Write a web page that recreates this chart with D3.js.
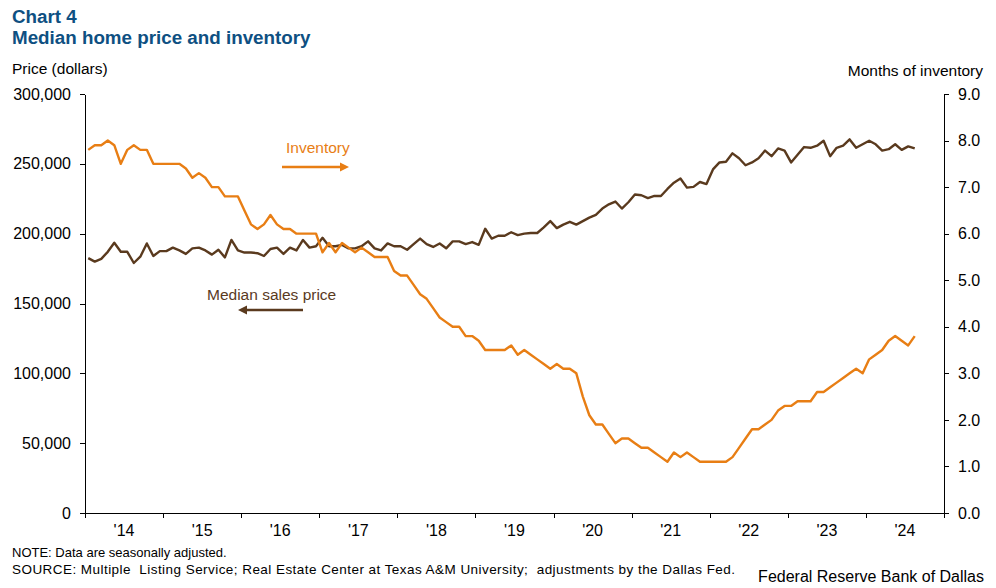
<!DOCTYPE html>
<html><head><meta charset="utf-8">
<script src="https://cdn.jsdelivr.net/npm/d3@7"></script>
<style>
body{margin:0;background:#fff}
svg{display:block}
text{font-family:"Liberation Sans",Arial,sans-serif}
</style></head>
<body><svg id="c" width="996" height="588"></svg>
<script>
// ---- data (monthly, Jan 2014 – Aug 2024) ----
const months = d3.timeMonth.range(new Date(2014,0,1), new Date(2024,8,1));
const price = [
182500,180000,182000,187000,193500,187000,187000,179000,183500,193000,
184000,187500,187500,190000,188000,185500,189500,190000,188000,185000,
188500,183000,195500,188000,186500,186500,186000,184000,189000,190000,
185500,190000,188000,195500,190000,191000,197000,191000,191000,192000,
189500,189500,191000,194500,189500,188000,193000,191000,191000,188500,
192500,196500,192500,190500,193000,189500,194500,194500,192500,194000,
192000,203500,196500,198500,198500,201000,199000,200000,200500,200500,
204500,209000,204000,206500,208500,206500,209000,211500,213500,218000,
221000,223000,218000,222500,228000,227500,225500,227000,227000,232000,
236500,239500,233000,233500,237000,235500,246000,251000,251500,257500,
254000,249000,251000,254000,259500,255500,261000,259500,251000,256500,
262000,261500,263000,266500,255500,261500,263000,267500,261500,264000,
266500,264000,259500,260500,264000,260000,262500,261000];
const inventory = [
7.8,7.9,7.9,8.0,7.9,7.5,7.8,7.9,7.8,7.8,
7.5,7.5,7.5,7.5,7.5,7.4,7.2,7.3,7.2,7.0,
7.0,6.8,6.8,6.8,6.5,6.2,6.1,6.2,6.4,6.2,
6.1,6.1,6.0,6.0,6.0,6.0,5.6,5.8,5.6,5.8,
5.7,5.6,5.7,5.6,5.5,5.5,5.5,5.2,5.1,5.1,
4.9,4.7,4.6,4.4,4.2,4.1,4.0,4.0,3.8,3.8,
3.7,3.5,3.5,3.5,3.5,3.6,3.4,3.5,3.4,3.3,
3.2,3.1,3.2,3.1,3.1,3.0,2.5,2.1,1.9,1.9,
1.7,1.5,1.6,1.6,1.5,1.4,1.4,1.3,1.2,1.1,
1.3,1.2,1.3,1.2,1.1,1.1,1.1,1.1,1.1,1.2,
1.4,1.6,1.8,1.8,1.9,2.0,2.2,2.3,2.3,2.4,
2.4,2.4,2.6,2.6,2.7,2.8,2.9,3.0,3.1,3.0,
3.3,3.4,3.5,3.7,3.8,3.7,3.6,3.8];
const years = [2014,2015,2016,2017,2018,2019,2020,2021,2022,2023,2024];
const yearLabels = ["'14","'15","'16","'17","'18","'19","'20","'21","'22","'23","'24"];
const priceTicks = [0,50000,100000,150000,200000,250000,300000];
const invTicks = [0,1,2,3,4,5,6,7,8,9];

const ORANGE = "#e87e14", BROWN = "#5a3a1e", BLUE = "#0e5082";
const L = 85, R = 944, T = 94, B = 513;

const svg = d3.select("#c");
const slots = d3.timeMonth.range(new Date(2014,0,1), new Date(2025,0,1));
const x = d3.scaleBand().domain(slots.map(d=>+d)).range([L,R]);
const xYear = d3.scaleLinear().domain([2014,2025]).range([L,R]);
const yL = d3.scaleLinear().domain([0,300000]).range([B,T]);
const yR = d3.scaleLinear().domain([0,9]).range([B,T]);

// titles
svg.append("text").attr("x",12).attr("y",23).attr("fill",BLUE).attr("font-weight","bold")
  .attr("font-size",18.8).text("Chart 4");
svg.append("text").attr("x",12).attr("y",44).attr("fill",BLUE).attr("font-weight","bold")
  .attr("font-size",18.8).text("Median home price and inventory");
svg.append("text").attr("x",12).attr("y",74).attr("font-size",15.5).attr("fill","#000").text("Price (dollars)");
svg.append("text").attr("x",983).attr("y",76).attr("font-size",15.5).attr("text-anchor","end").attr("fill","#000").text("Months of inventory");

// axes
const gl = svg.append("g").attr("transform",`translate(${L},0)`)
  .call(d3.axisLeft(yL).tickValues(priceTicks).tickFormat(d3.format(",")).tickSize(5).tickSizeOuter(0).tickPadding(9));
const gr = svg.append("g").attr("transform",`translate(${R},0)`)
  .call(d3.axisRight(yR).tickValues(invTicks).tickFormat(d3.format(".1f")).tickSize(5).tickSizeOuter(0).tickPadding(9));
const gb = svg.append("g").attr("transform",`translate(0,${B})`)
  .call(d3.axisBottom(xYear).tickValues(years.concat([2025])).tickFormat("").tickSize(5).tickSizeOuter(0));
[gl,gr,gb].forEach(g=>{
  g.selectAll("path,line").attr("stroke","#000").attr("stroke-width",1).attr("shape-rendering","crispEdges");
  g.selectAll("text").attr("font-size",16).attr("fill","#000").attr("font-family",'"Liberation Sans",Arial,sans-serif');
});
svg.append("g").selectAll("text").data(years).join("text")
  .attr("x",d=>xYear(d+0.5)).attr("y",536).attr("text-anchor","middle")
  .attr("font-size",16).attr("fill","#000").text((d,i)=>yearLabels[i]);

// lines
const xc = d => x(+d) + x.bandwidth()/2;
svg.append("path").datum(price)
  .attr("d", d3.line().x((d,i)=>xc(months[i])).y(d=>yL(d)))
  .attr("fill","none").attr("stroke",BROWN).attr("stroke-width",2.4).attr("stroke-linejoin","round");
svg.append("path").datum(inventory)
  .attr("d", d3.line().x((d,i)=>xc(months[i])).y(d=>yR(d)))
  .attr("fill","none").attr("stroke",ORANGE).attr("stroke-width",2.4).attr("stroke-linejoin","round");

// annotations
svg.append("text").attr("x",286).attr("y",153).attr("font-size",15.5).attr("fill",ORANGE).text("Inventory");
svg.append("line").attr("x1",282).attr("x2",341).attr("y1",167).attr("y2",167).attr("stroke",ORANGE).attr("stroke-width",2.5);
svg.append("path").attr("d","M349,167 L340,162.5 L340,171.5 Z").attr("fill",ORANGE);

svg.append("text").attr("x",207).attr("y",300).attr("font-size",15.5).attr("fill",BROWN).text("Median sales price");
svg.append("line").attr("x1",246).attr("x2",303).attr("y1",310).attr("y2",310).attr("stroke",BROWN).attr("stroke-width",2.5);
svg.append("path").attr("d","M238,310 L247,305.5 L247,314.5 Z").attr("fill",BROWN);

// footnotes
svg.append("text").attr("x",12).attr("y",557).attr("font-size",13).attr("fill","#000").text("NOTE: Data are seasonally adjusted.");
svg.append("text").attr("x",12).attr("y",574).attr("font-size",13.5).attr("fill","#000")
  .attr("textLength",723).attr("lengthAdjust","spacing")
  .text("SOURCE: Multiple  Listing Service; Real Estate Center at Texas A&M University;  adjustments by the Dallas Fed.").style("white-space","pre");
svg.append("text").attr("x",984).attr("y",582).attr("font-size",16).attr("text-anchor","end").attr("fill","#000").text("Federal Reserve Bank of Dallas");
</script></body></html>
